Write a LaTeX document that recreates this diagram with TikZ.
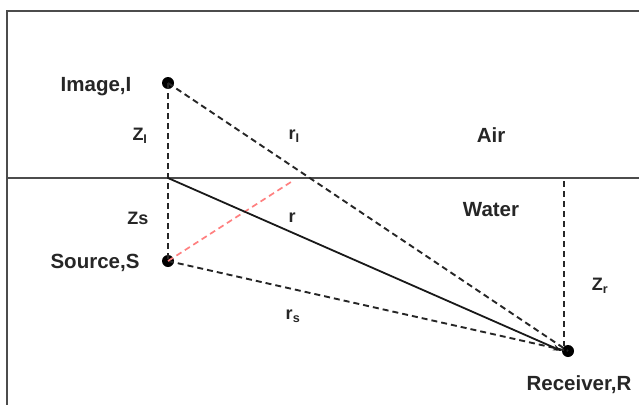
\documentclass[tikz,border=0pt]{standalone}
\usepackage{fontspec}
\setmainfont{Liberation Sans}
\usetikzlibrary{arrows.meta}
\begin{document}
\begin{tikzpicture}[x=1pt,y=-1pt,
  border/.style={draw=black!70,line width=2.6pt},
  dashline/.style={draw=black!85,line width=1.9pt,dash pattern=on 6pt off 4pt},
  reddash/.style={draw=red!50,line width=1.7pt,dash pattern=on 6pt off 4pt},
  solidray/.style={draw=black!90,line width=1.8pt},
  dot/.style={circle,fill=black,inner sep=0pt,minimum size=12pt},
  lbl/.style={font=\fontsize{20.5}{24}\selectfont\bfseries,inner sep=0pt,text=black!85},
  slbl/.style={font=\fontsize{18}{21}\selectfont\bfseries,inner sep=0pt,text=black!85}]
\useasboundingbox (0,0) rectangle (639,404);
% borders and surface
\coordinate (tl) at (7,11);
\coordinate (tr) at (641,11);
\coordinate (bl) at (7,406);
\coordinate (sl) at (7,178);
\coordinate (sr) at (641,178);
\draw[border] (tr) -- (tl) -- (bl);
\draw[border] (sl) -- (sr);
% points
\node[dot] (I) at (168,83) {};
\node[dot] (S) at (168,261) {};
\node[dot] (R) at (568,351) {};
\coordinate (P) at (168,178);
\coordinate (Q) at (291,182);
\coordinate (Rt) at (564,181);
\coordinate (Rb) at (564,346);
% rays
\draw[dashline] (I.center) -- (S.center);
\draw[dashline] (Rt) -- (Rb);
\draw[dashline] (I.center) -- (R.center);
\draw[dashline] (S.center) -- (R.center);
\draw[reddash] (S.center) -- (Q);
\draw[solidray,-{Stealth[length=9pt,width=6pt]}] (P) -- (R.west);
% labels
\node[lbl] (lI) at (96,87) {Image,I};
\node[lbl] (lS) at (95,263) {Source,S};
\node[lbl] (lR) at (579,385) {Receiver,R};
\node[lbl] (lair) at (491,135) {Air};
\node[lbl] (lwater) at (491,210) {Water};
\node[slbl] (lzi) at (140,136) {Z\textsubscript{I}};
\node[slbl] (lri) at (294,136) {r\textsubscript{I}};
\node[slbl] (lzs) at (138,218) {Zs};
\node[slbl] (lr) at (292,218) {r};
\node[slbl] (lrs) at (293,316) {r\textsubscript{s}};
\node[slbl] (lzr) at (600,286) {Z\textsubscript{r}};
\end{tikzpicture}
\end{document}
